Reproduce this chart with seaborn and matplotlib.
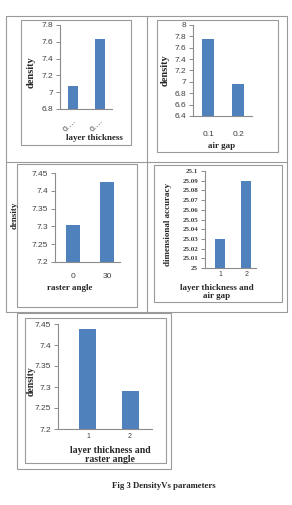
import matplotlib
matplotlib.use("Agg")
import matplotlib.pyplot as plt
import matplotlib.ticker as mticker
from matplotlib.patches import Rectangle
import numpy as np
import pandas as pd
import seaborn as sns

sns.set_style("white")

# data
lt_labels = ["0.\u2026", "0.\u2026"]
lt_density = [7.07, 7.63]

ag_labels = ["0.1", "0.2"]
ag_density = [7.75, 6.96]

ra_labels = ["0", "30"]
ra_density = [7.305, 7.425]

ltag_labels = ["1", "2"]
ltag_accuracy = [25.03, 25.09]

ltra_labels = ["1", "2"]
ltra_density = [7.438, 7.29]

W, H = 292, 505
BLUE = "#4F81BD"
GRAY = "#8c8c8c"
SERIF = "Liberation Serif"
SANS = "Liberation Sans"

fig = plt.figure(figsize=(W / 100, H / 100), dpi=100)
fig.patch.set_facecolor("white")


def px_rect(x0, y0, x1, y1, lw=0.8, color="#9a9a9a"):
    fig.patches.append(Rectangle((x0 / W, 1 - y1 / H), (x1 - x0) / W, (y1 - y0) / H,
                                 transform=fig.transFigure, fill=False,
                                 edgecolor=color, linewidth=lw))


def px_line(x0, y0, x1, y1, lw=0.8, color="#9a9a9a"):
    fig.add_artist(plt.Line2D([x0 / W, x1 / W], [1 - y0 / H, 1 - y1 / H],
                              transform=fig.transFigure, color=color, linewidth=lw))


# table grid and chart frames
px_line(6, 16, 287, 16)
px_line(6, 162, 287, 162)
px_line(6, 312, 287, 312)
for xx in (6, 147, 287):
    px_line(xx, 16, xx, 312)
px_rect(21, 20, 131, 145)
px_rect(157, 20, 278, 152)
px_rect(17, 164, 137, 307)
px_rect(154, 165, 282, 302)
px_rect(17, 313, 171, 469)
px_rect(25, 318, 166, 463)


def chart(labels, values, box, ylim, yticks, xlim, width, ylabel, ylab_pos, ylab_size,
          xlabel, xlab_pos, xlab_size, xpad, tick_size=6, tick_font=SANS, tick_weight="normal",
          xtick_rot=0, xtick_size=6, fmt="%g"):
    l, t, r, b = box
    ax = fig.add_axes([l / W, 1 - b / H, (r - l) / W, (b - t) / H])
    df = pd.DataFrame({"cat": labels, "val": values, "pos": range(len(labels))})
    sns.barplot(data=df, x="pos", y="val", color=BLUE, width=width, saturation=1,
                ax=ax, edgecolor="none")
    ax.set_ylim(*ylim)
    ax.set_xlim(*xlim)
    ax.set_yticks(yticks)
    ax.yaxis.set_major_formatter(mticker.FuncFormatter(lambda v, p: fmt % round(v, 4)))
    ax.set_xticks(range(len(labels)))
    ax.set_xticklabels(labels)
    for s in ("top", "right"):
        ax.spines[s].set_visible(False)
    for s in ("left", "bottom"):
        ax.spines[s].set_color(GRAY)
        ax.spines[s].set_linewidth(0.8)
    ax.tick_params(axis="y", direction="out", length=3, width=0.7, color=GRAY,
                   pad=2, labelsize=tick_size, labelcolor="#404040", left=True)
    ax.tick_params(axis="x", length=0, pad=xpad, labelsize=xtick_size, labelcolor="#404040")
    for tl in ax.get_yticklabels():
        tl.set_fontfamily(tick_font)
        tl.set_fontweight(tick_weight)
    for tl in ax.get_xticklabels():
        tl.set_fontfamily(SANS)
        if xtick_rot:
            tl.set_rotation(xtick_rot)
            tl.set_ha("right")
            tl.set_rotation_mode("anchor")
    ax.set_facecolor("none")
    ax.set_ylabel("")
    ax.set_xlabel("")
    fig.text(ylab_pos[0] / W, 1 - ylab_pos[1] / H, ylabel, rotation=90, ha="center",
             va="center", fontfamily=SERIF, fontweight="bold", fontsize=ylab_size)
    fig.text(xlab_pos[0] / W, 1 - xlab_pos[1] / H, xlabel, ha="center", va="center",
             fontfamily=SERIF, fontweight="bold", fontsize=xlab_size, linespacing=1.1)
    return ax


chart(lt_labels, lt_density, (60, 25, 112, 109), (6.8, 7.8), np.arange(6.8, 7.81, 0.2),
      (-0.5, 1.45), 0.38, "density", (31, 72), 7.5, "layer thickness", (94, 138), 6.5,
      xpad=6, xtick_rot=45)

chart(ag_labels, ag_density, (193, 25, 252, 116), (6.4, 8.0), np.arange(6.4, 8.01, 0.2),
      (-0.5, 1.45), 0.4, "density", (165, 70), 7.5, "air gap", (222, 146), 6.5,
      xpad=11)

chart(ra_labels, ra_density, (55, 173, 120, 262), (7.2, 7.45), np.arange(7.2, 7.451, 0.05),
      (-0.53, 1.38), 0.41, "density", (15, 215), 6.5, "raster angle", (70, 288), 6.5,
      xpad=8)

chart(ltag_labels, ltag_accuracy, (205, 171, 256, 268), (25.0, 25.1),
      np.arange(25.0, 25.1001, 0.01), (-0.58, 1.38), 0.38, "dimensional accuracy",
      (168, 224), 6.5, "layer thickness and\nair gap", (217, 292), 6.5,
      xpad=2.5, tick_size=5, tick_font=SERIF, tick_weight="bold", xtick_size=5)

chart(ltra_labels, ltra_density, (58, 324, 152, 429), (7.2, 7.45),
      np.arange(7.2, 7.451, 0.05), (-0.71, 1.52), 0.4, "density", (31, 381), 7,
      "layer thickness and\nraster angle", (110, 455), 7,
      xpad=3, xtick_size=5)

fig.text(164 / W, 1 - 486 / H, "Fig 3 DensityVs parameters", ha="center", va="center",
         fontfamily=SERIF, fontweight="bold", fontsize=6.3)

fig.savefig("out.png", dpi=100, facecolor="white")
